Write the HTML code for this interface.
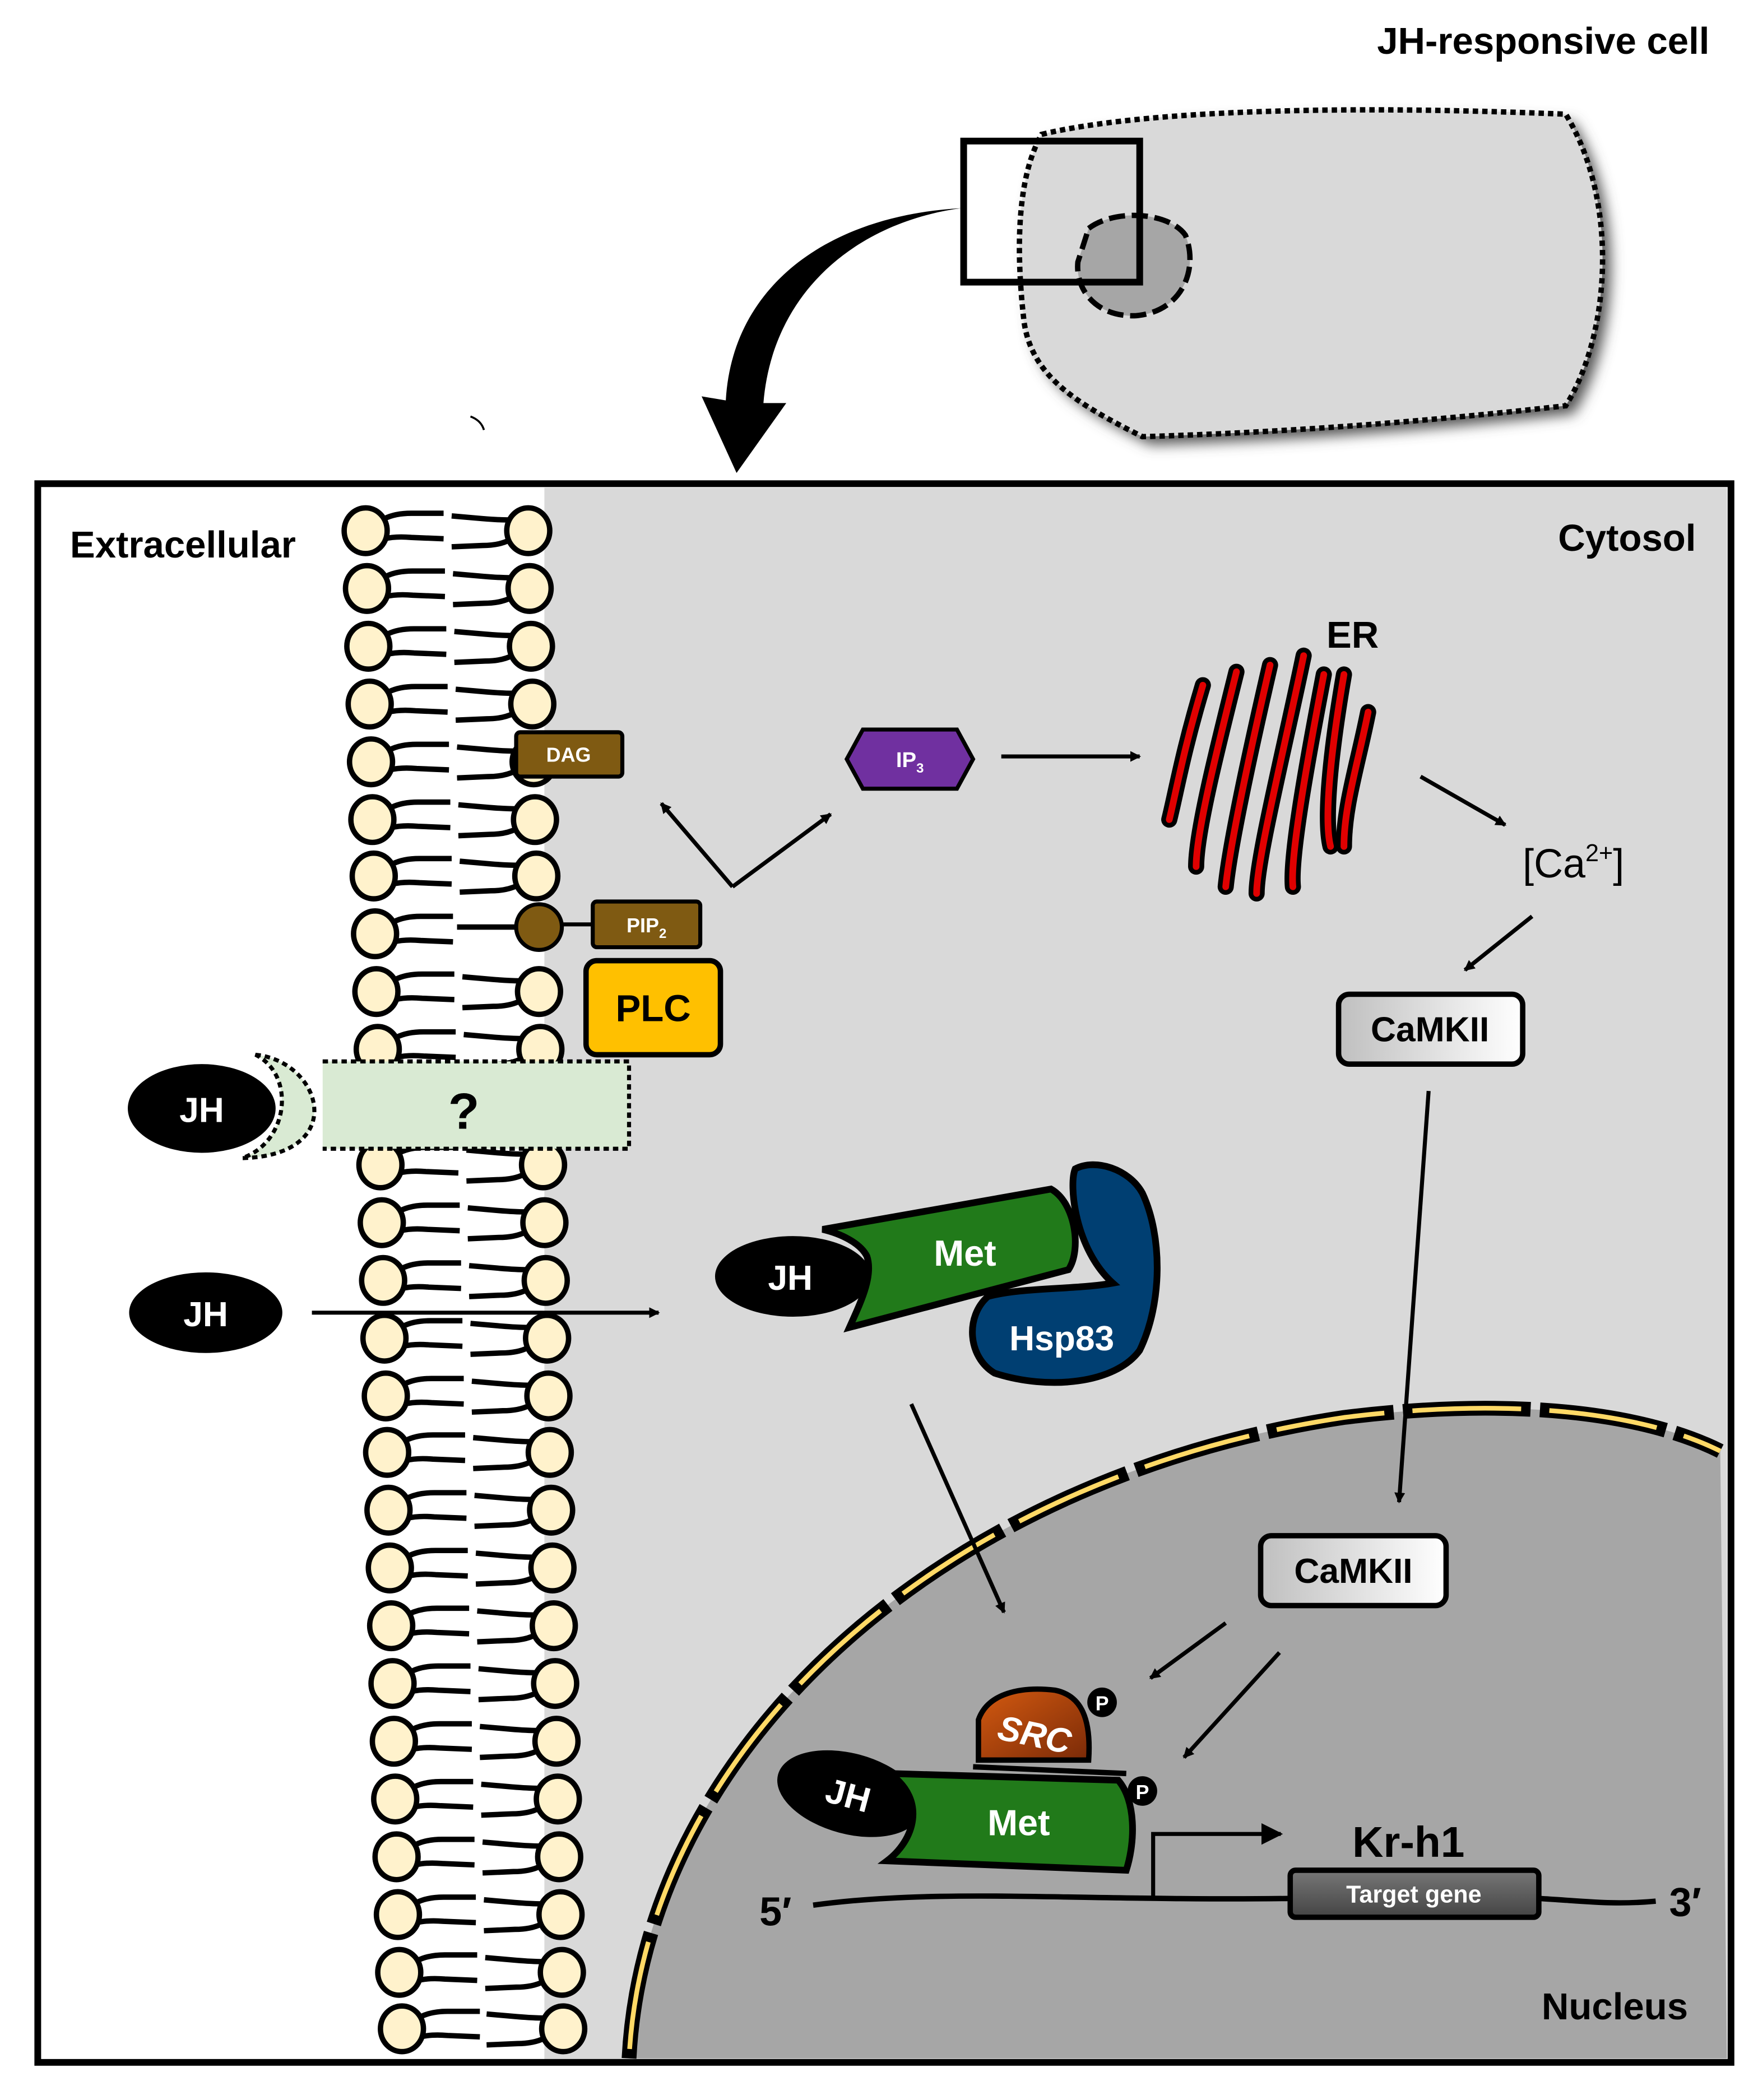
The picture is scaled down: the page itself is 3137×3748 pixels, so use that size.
<!DOCTYPE html>
<html><head><meta charset="utf-8"><style>
html,body{margin:0;padding:0;background:#fff}
svg{display:block}
text{font-family:"Liberation Sans",sans-serif;font-weight:bold}
</style></head><body>
<svg width="3137" height="3748" viewBox="0 0 1308 1563" xmlns="http://www.w3.org/2000/svg">
<defs>
<filter id="sh" x="-10%" y="-10%" width="130%" height="130%"><feGaussianBlur stdDeviation="5"/></filter>
<linearGradient id="cam" x1="0" y1="0" x2="1" y2="0"><stop offset="0" stop-color="#bfbfbf"/><stop offset="1" stop-color="#ffffff"/></linearGradient>
<linearGradient id="tg" x1="0" y1="0" x2="0" y2="1"><stop offset="0" stop-color="#777"/><stop offset="1" stop-color="#444"/></linearGradient>
<linearGradient id="src" x1="0" y1="0" x2="1" y2="1"><stop offset="0" stop-color="#d45a10"/><stop offset="1" stop-color="#7a2a08"/></linearGradient>
<marker id="ah" markerWidth="8" markerHeight="8" refX="7" refY="4" orient="auto" markerUnits="userSpaceOnUse" viewBox="0 0 8 8"><path d="M0,0 L8,4 L0,8 Z" fill="#000"/></marker>
<marker id="a2" viewBox="0 0 10 10" refX="9" refY="5" markerWidth="16" markerHeight="16" orient="auto" markerUnits="userSpaceOnUse"><path d="M0,0 L10,5 L0,10 Z" fill="#000"/></marker>
<g id="ll"><path d="M14,-9 q8,-4 20,-4 L58,-13 M14,6 q8,-2 20,-1 L58,6" stroke="#000" stroke-width="4" fill="none"/><ellipse cx="0" cy="0" rx="16" ry="17" fill="#fff2cc" stroke="#000" stroke-width="4"/></g>
<g id="rl"><path d="M-14,-8 q-8,0 -20,-1 L-57,-11 M-14,7 q-8,4 -20,4 L-57,12" stroke="#000" stroke-width="4" fill="none"/><ellipse cx="0" cy="0" rx="16" ry="17" fill="#fff2cc" stroke="#000" stroke-width="4"/></g>
</defs>

<text x="1272" y="40" font-size="28" text-anchor="end">JH-responsive cell</text>
<path d="M775,100 C850,82 1000,78 1165,85 C1205,150 1198,250 1165,302 C1050,315 950,322 850,325 C800,300 768,280 762,240 C755,180 758,130 775,100 Z" fill="#555" filter="url(#sh)" transform="translate(6,6)"/>
<path d="M775,100 C850,82 1000,78 1165,85 C1205,150 1198,250 1165,302 C1050,315 950,322 850,325 C800,300 768,280 762,240 C755,180 758,130 775,100 Z" fill="#d9d9d9" stroke="#000" stroke-width="4" stroke-dasharray="4,3"/>
<path d="M810,170 C830,155 870,158 882,175 C892,200 880,232 845,235 C815,236 800,215 802,195 Z" fill="#a6a6a6" stroke="#000" stroke-width="4" stroke-dasharray="12,5"/>
<rect x="717" y="105" width="131" height="105" fill="none" stroke="#000" stroke-width="5"/>
<path d="M715,155 C640,165 575,215 568,300 L585,300 L548,352 L522,295 L540,298 C545,210 620,160 715,155 Z" fill="#000"/>
<path d="M350,310 q8,3 10,10" stroke="#000" stroke-width="1.5" fill="none"/>

<rect x="28" y="360" width="1260" height="1175" fill="#fff" stroke="none"/>
<rect x="405" y="363" width="880" height="1170" fill="#d9d9d9"/>
<path d="M468,1532 C480,1300 700,1100 1000,1055 C1120,1040 1220,1050 1280,1080 L1285,1532 Z" fill="#a6a6a6"/>
<path d="M468,1532 C480,1300 700,1100 1000,1055 C1120,1040 1220,1050 1280,1080" fill="none" stroke="#000" stroke-width="11" stroke-dasharray="95,7"/>
<path d="M468,1532 C480,1300 700,1100 1000,1055 C1120,1040 1220,1050 1280,1080" fill="none" stroke="#ffd966" stroke-width="3.5" stroke-dasharray="81,21" stroke-dashoffset="-7"/>

<g>
<use href="#ll" x="272" y="395"/><use href="#rl" x="393" y="395"/>
<use href="#ll" x="273" y="438"/><use href="#rl" x="394" y="438"/>
<use href="#ll" x="274" y="481"/><use href="#rl" x="395" y="481"/>
<use href="#ll" x="275" y="524"/><use href="#rl" x="396" y="524"/>
<use href="#ll" x="276" y="567"/><use href="#rl" x="397" y="567"/>
<use href="#ll" x="277" y="610"/><use href="#rl" x="398" y="610"/>
<use href="#ll" x="278" y="652"/><use href="#rl" x="399" y="652"/>
<use href="#ll" x="279" y="695"/>
<use href="#ll" x="280" y="738"/><use href="#rl" x="401" y="738"/>
<use href="#ll" x="281" y="781"/><use href="#rl" x="402" y="781"/>
<use href="#ll" x="282" y="824"/><use href="#rl" x="403" y="824"/>
<use href="#ll" x="283" y="867"/><use href="#rl" x="404" y="867"/>
<use href="#ll" x="284" y="910"/><use href="#rl" x="405" y="910"/>
<use href="#ll" x="285" y="953"/><use href="#rl" x="406" y="953"/>
<use href="#ll" x="286" y="996"/><use href="#rl" x="407" y="996"/>
<use href="#ll" x="287" y="1039"/><use href="#rl" x="408" y="1039"/>
<use href="#ll" x="288" y="1081"/><use href="#rl" x="409" y="1081"/>
<use href="#ll" x="289" y="1124"/><use href="#rl" x="410" y="1124"/>
<use href="#ll" x="290" y="1167"/><use href="#rl" x="411" y="1167"/>
<use href="#ll" x="291" y="1210"/><use href="#rl" x="412" y="1210"/>
<use href="#ll" x="292" y="1253"/><use href="#rl" x="413" y="1253"/>
<use href="#ll" x="293" y="1296"/><use href="#rl" x="414" y="1296"/>
<use href="#ll" x="294" y="1339"/><use href="#rl" x="415" y="1339"/>
<use href="#ll" x="295" y="1382"/><use href="#rl" x="416" y="1382"/>
<use href="#ll" x="296" y="1425"/><use href="#rl" x="417" y="1425"/>
<use href="#ll" x="297" y="1468"/><use href="#rl" x="418" y="1468"/>
<use href="#ll" x="299" y="1510"/><use href="#rl" x="419" y="1510"/>
</g>
<path d="M385,690 L340,690" stroke="#000" stroke-width="4" fill="none"/>
<ellipse cx="401" cy="690" rx="17" ry="17" fill="#7f5a12" stroke="#000" stroke-width="3"/>
<line x1="418" y1="688" x2="442" y2="688" stroke="#000" stroke-width="3"/>

<rect x="28" y="360" width="1260" height="1175" fill="none" stroke="#000" stroke-width="5"/>
<text x="52" y="415" font-size="28">Extracellular</text>
<text x="1262" y="410" font-size="28" text-anchor="end">Cytosol</text>
<text x="1256" y="1503" font-size="28" text-anchor="end">Nucleus</text>

<rect x="384" y="545" width="79" height="33" rx="3" fill="#7f5a12" stroke="#000" stroke-width="3"/>
<text x="423" y="567" font-size="15" fill="#fff" text-anchor="middle">DAG</text>
<rect x="441" y="671" width="80" height="34" rx="3" fill="#7f5a12" stroke="#000" stroke-width="3"/>
<text x="481" y="694" font-size="15" fill="#fff" text-anchor="middle">PIP<tspan font-size="10" dy="4">2</tspan></text>
<rect x="436" y="715" width="100" height="70" rx="8" fill="#ffc000" stroke="#000" stroke-width="4"/>
<text x="486" y="760" font-size="28" text-anchor="middle">PLC</text>
<line x1="545" y1="660" x2="492" y2="598" stroke="#000" stroke-width="3" marker-end="url(#ah)"/>
<line x1="545" y1="660" x2="618" y2="606" stroke="#000" stroke-width="3" marker-end="url(#ah)"/>
<polygon points="630,565 642,543 712,543 724,565 712,587 642,587" fill="#7030a0" stroke="#000" stroke-width="3"/>
<text x="677" y="571" font-size="16" fill="#fff" text-anchor="middle">IP<tspan font-size="10" dy="4">3</tspan></text>
<line x1="745" y1="563" x2="848" y2="563" stroke="#000" stroke-width="3" marker-end="url(#ah)"/>

<g fill="none" stroke-linecap="round">
<g stroke="#000" stroke-width="12">
<path d="M895,510 C880,560 875,590 870,610"/>
<path d="M920,500 C905,560 890,620 890,645"/>
<path d="M945,495 C930,560 915,630 912,660"/>
<path d="M970,488 C955,560 935,640 935,665"/>
<path d="M985,502 C970,580 960,640 962,660"/>
<path d="M1000,502 C990,560 985,610 990,630"/>
<path d="M1018,530 C1010,570 1000,600 1000,630"/>
</g>
<g stroke="#e00000" stroke-width="5">
<path d="M895,510 C880,560 875,590 870,610"/>
<path d="M920,500 C905,560 890,620 890,645"/>
<path d="M945,495 C930,560 915,630 912,660"/>
<path d="M970,488 C955,560 935,640 935,665"/>
<path d="M985,502 C970,580 960,640 962,660"/>
<path d="M1000,502 C990,560 985,610 990,630"/>
<path d="M1018,530 C1010,570 1000,600 1000,630"/>
</g></g>
<text x="987" y="482" font-size="28">ER</text>
<line x1="1057" y1="578" x2="1120" y2="614" stroke="#000" stroke-width="3" marker-end="url(#ah)"/>
<text x="1133" y="653" font-size="30" style="font-weight:normal">[Ca<tspan font-size="18" dy="-12">2+</tspan><tspan dy="12">]</tspan></text>
<line x1="1140" y1="682" x2="1090" y2="722" stroke="#000" stroke-width="3" marker-end="url(#ah)"/>
<rect x="996" y="740" width="137" height="52" rx="8" fill="url(#cam)" stroke="#000" stroke-width="4"/>
<text x="1064" y="775" font-size="26" text-anchor="middle">CaMKII</text>
<line x1="1063" y1="812" x2="1041" y2="1118" stroke="#000" stroke-width="3" marker-end="url(#ah)"/>
<rect x="938" y="1143" width="138" height="52" rx="8" fill="url(#cam)" stroke="#000" stroke-width="4"/>
<text x="1007" y="1178" font-size="26" text-anchor="middle">CaMKII</text>
<line x1="912" y1="1208" x2="856" y2="1249" stroke="#000" stroke-width="3" marker-end="url(#ah)"/>
<line x1="952" y1="1230" x2="881" y2="1308" stroke="#000" stroke-width="3" marker-end="url(#ah)"/>

<path d="M240,790 L468,790 L468,855 L240,855" fill="#d9ead3" stroke="#000" stroke-width="3" stroke-dasharray="4,3"/>
<path d="M190,785 C240,790 260,860 180,862 C215,850 220,800 190,785 Z" fill="#d9ead3" stroke="#000" stroke-width="3" stroke-dasharray="4,3"/>
<text x="345" y="840" font-size="38" text-anchor="middle">?</text>
<ellipse cx="150" cy="825" rx="55" ry="33" fill="#000"/>
<text x="150" y="835" font-size="26" fill="#fff" text-anchor="middle">JH</text>
<ellipse cx="153" cy="977" rx="57" ry="30" fill="#000"/>
<text x="153" y="987" font-size="26" fill="#fff" text-anchor="middle">JH</text>
<line x1="232" y1="977" x2="490" y2="977" stroke="#000" stroke-width="3" marker-end="url(#ah)"/>

<path d="M800,870 C795,882 800,930 828,955 C800,960 760,958 735,965 C718,980 720,1010 740,1022 C780,1035 830,1030 848,1005 C865,970 865,920 850,888 C840,870 815,862 800,870 Z" fill="#003f72" stroke="#000" stroke-width="5"/>
<text x="790" y="1005" font-size="26" fill="#fff" text-anchor="middle">Hsp83</text>
<ellipse cx="590" cy="950" rx="58" ry="30" fill="#000"/>
<text x="588" y="960" font-size="26" fill="#fff" text-anchor="middle">JH</text>
<path d="M612,915 L782,885 C800,895 805,930 795,945 L632,988 C640,970 650,950 645,935 C640,925 625,918 612,915 Z" fill="#217a1a" stroke="#000" stroke-width="5"/>
<text x="718" y="942" font-size="27" fill="#fff" text-anchor="middle">Met</text>
<line x1="678" y1="1045" x2="747" y2="1200" stroke="#000" stroke-width="3" marker-end="url(#ah)"/>

<path d="M728,1310 L728,1280 C735,1260 760,1255 785,1258 C805,1262 812,1280 810,1310 Z" fill="url(#src)" stroke="#000" stroke-width="4"/>
<text x="770" y="1300" font-size="26" fill="#fff" text-anchor="middle" font-style="italic" transform="rotate(12 770 1290)">SRC</text>
<line x1="724" y1="1315" x2="838" y2="1320" stroke="#000" stroke-width="4"/>
<circle cx="820" cy="1267" r="11" fill="#000"/>
<text x="820" y="1273" font-size="15" fill="#fff" text-anchor="middle">P</text>
<ellipse cx="632" cy="1335" rx="55" ry="30" fill="#000" transform="rotate(15 632 1335)"/>
<text x="630" y="1345" font-size="26" fill="#fff" text-anchor="middle" transform="rotate(15 630 1340)">JH</text>
<path d="M662,1320 L832,1325 C845,1340 845,1370 838,1392 L660,1385 C680,1370 690,1340 662,1320 Z" fill="#217a1a" stroke="#000" stroke-width="5"/>
<text x="758" y="1366" font-size="27" fill="#fff" text-anchor="middle">Met</text>
<circle cx="850" cy="1333" r="11" fill="#000"/>
<text x="850" y="1339" font-size="15" fill="#fff" text-anchor="middle">P</text>

<path d="M605,1418 C700,1405 800,1415 960,1413 L1145,1413 C1180,1415 1200,1418 1232,1415" fill="none" stroke="#000" stroke-width="4"/>
<path d="M858,1413 L858,1365 L953,1365" fill="none" stroke="#000" stroke-width="3" marker-end="url(#a2)"/>
<text x="1048" y="1382" font-size="32" text-anchor="middle">Kr-h1</text>
<rect x="960" y="1392" width="185" height="35" rx="4" fill="url(#tg)" stroke="#000" stroke-width="4"/>
<text x="1052" y="1416" font-size="18" fill="#fff" text-anchor="middle">Target gene</text>
<text x="565" y="1433" font-size="30">5′</text>
<text x="1242" y="1426" font-size="30">3′</text>
</svg>
</body></html>
